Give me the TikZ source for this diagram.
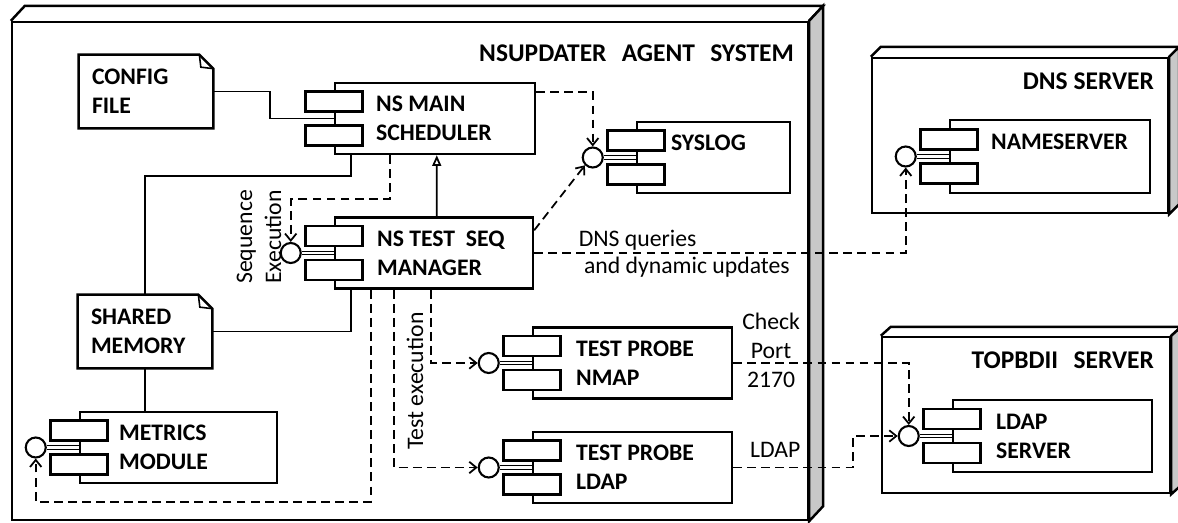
\documentclass[tikz,border=0pt]{standalone}
\usepackage{fontspec}
\setmainfont{Carlito}
\usepackage{tikz}
\usetikzlibrary{positioning, arrows.meta, calc}

\definecolor{sidegray}{RGB}{200,200,200}

% two little tabs on the left edge of a component
\newcommand{\comptabs}[1]{%
  \node[tab] (#1-a) at ([yshift=0.34cm]#1.west) {};
  \node[tab] (#1-b) at ([yshift=-0.34cm]#1.west) {};
}
% provided interface
\newcommand{\lollipop}[1]{%
  \node[iface, left=0.64cm of #1.west] (#1-i) {};
  \draw[line width=0.7pt, double, double distance=1.3pt] (#1-i) -- (#1.west);
}
% top and side faces of a deployment node
\newcommand{\nodebox}[3]{%
  \draw[line width=1.4pt] (#1.north west) -- ++(#2,-#3) -- ([shift={(#2,-#3)}]#1.north east) -- (#1.north east);
  \filldraw[line width=1.4pt, fill=sidegray] (#1.north east) -- ++(#2,-#3)
    -- ([shift={(#2,-#3)}]#1.south east) -- (#1.south east) -- cycle;
}
% document with a folded corner
\newcommand{\notefold}[1]{%
  \draw[line width=1.4pt] (#1.north west) -- ([xshift=-0.28cm]#1.north east)
    -- ([yshift=-0.28cm]#1.north east) -- (#1.south east) -- (#1.south west) -- cycle;
  \draw[line width=0.9pt] ([xshift=-0.28cm]#1.north east) -- ([xshift=-0.25cm,yshift=-0.25cm]#1.north east)
    -- ([yshift=-0.28cm]#1.north east);
}

\begin{document}
\begin{tikzpicture}[x=0.02cm, y=-0.02cm,
  font=\fontsize{13.5}{16.5}\selectfont,
  box/.style={draw, line width=1.4pt, fill=white, inner sep=0pt},
  comp/.style={draw, line width=1.4pt, fill=white, minimum width=4cm, minimum height=1.42cm, inner sep=0pt},
  tab/.style={draw, line width=1.4pt, fill=white, minimum width=1.14cm, minimum height=0.4cm, inner sep=0pt},
  iface/.style={circle, draw, line width=1.2pt, fill=white, minimum size=0.4cm, inner sep=0pt},
  ctext/.style={align=left, inner sep=0pt, font=\fontsize{13.5}{16.5}\selectfont\bfseries},
  ttext/.style={inner sep=0pt, font=\fontsize{14.5}{17}\selectfont\bfseries},
  note/.style={minimum width=2.68cm, minimum height=1.46cm, text width=2.16cm, inner xsep=0.26cm,
    align=left, font=\fontsize{13.5}{16.5}\selectfont\bfseries},
  link/.style={line width=1pt},
  dep/.style={line width=1pt, dash pattern=on 5pt off 3pt, -{Straight Barb[length=4pt, width=6.5pt]}},
  lbl/.style={inner sep=0pt, align=center}]

  \fill[white] (0,0) rectangle (1178,522);
  \useasboundingbox (0,0) rectangle (1178,522);

  % deployment nodes
  \node[box, minimum width=15.92cm, minimum height=9.96cm] (agent) at (410,271) {};
  \nodebox{agent}{14}{15}
  \node[box, minimum width=5.92cm, minimum height=3.1cm] (dns) at (1020,135.5) {};
  \nodebox{dns}{10}{10}
  \node[box, minimum width=5.76cm, minimum height=3.12cm] (bdii) at (1026,415) {};
  \nodebox{bdii}{10}{9}

  \node[ttext, below left=0.47cm and 0.3cm of agent.north east] (agenttitle)
    {NSUPDATER\hspace{0.6em}AGENT\hspace{0.6em}SYSTEM};
  \node[ttext, below left=0.32cm and 0.3cm of dns.north east] (dnstitle) {DNS SERVER};
  \node[ttext, below left=0.32cm and 0.34cm of bdii.north east] (bdiititle) {TOPBDII\hspace{0.6em}SERVER};

  % files
  \node[note] (config) at (146,91.5) {CONFIG\\FILE};
  \notefold{config}
  \node[note] (shmem) at (145,331.5) {SHARED\\MEMORY};
  \notefold{shmem}

  % components
  \node[comp] (sched) at (435,118.5) {};
  \comptabs{sched}
  \node[ctext, right=0.84cm of sched.west] {NS MAIN\\SCHEDULER};

  \node[comp, minimum width=3.06cm] (syslog) at (713.5,157.5) {};
  \lollipop{syslog}
  \comptabs{syslog}
  \node[ctext, right=0.7cm of syslog.west, yshift=0.29cm] {SYSLOG};

  \node[comp, minimum width=3.96cm] (seq) at (434,253) {};
  \lollipop{seq}
  \comptabs{seq}
  \node[ctext, right=0.86cm of seq.west] {NS TEST\ \ SEQ\\MANAGER};

  \node[comp, minimum width=3.98cm] (nmap) at (632.5,363) {};
  \lollipop{nmap}
  \comptabs{nmap}
  \node[ctext, right=0.88cm of nmap.west] {TEST PROBE\\NMAP};

  \node[comp, minimum width=3.98cm] (ldapprobe) at (632.5,467.5) {};
  \lollipop{ldapprobe}
  \comptabs{ldapprobe}
  \node[ctext, right=0.88cm of ldapprobe.west] {TEST PROBE\\LDAP};

  \node[comp, minimum width=3.94cm] (metrics) at (178.5,447.5) {};
  \lollipop{metrics}
  \comptabs{metrics}
  \node[ctext, right=0.8cm of metrics.west] {METRICS\\MODULE};

  \node[comp, minimum width=4cm, minimum height=1.46cm] (ns) at (1050,156.5) {};
  \lollipop{ns}
  \comptabs{ns}
  \node[ctext, right=0.84cm of ns.west, yshift=0.29cm] {NAMESERVER};

  \node[comp, minimum width=3.98cm, minimum height=1.44cm] (ldaps) at (1052.5,436) {};
  \lollipop{ldaps}
  \comptabs{ldaps}
  \node[ctext, right=0.88cm of ldaps.west] {LDAP\\SERVER};

  % solid links
  \draw[link] (config.east) -- ++(57,0) |- (sched.west);
  \draw[link] ([xshift=0.34cm]sched.south west) -- ++(0,21) -| (shmem.north);
  \draw[link] ([xshift=0.34cm]seq.south west) |- (shmem.east);
  \draw[link] (shmem.south) -- (shmem.south |- metrics.north);
  \draw[link, -{Triangle[open, length=6pt, width=5pt]}] ([xshift=2.06cm]seq.north west) -- ([xshift=2.06cm]sched.south west);

  % dependencies
  \draw[dep] ([xshift=1.12cm]sched.south west) -- ++(0,44) -| (seq-i.north);
  \draw[dep] ([yshift=-0.2cm]sched.north east) -| (syslog-i.north);
  \draw[dep] ([yshift=-0.28cm]seq.north east) -- (syslog-i.south west);
  \draw[dep] (seq.east) -| (ns-i.south)
    node[pos=0.051, anchor=base west, yshift=0.14cm] {DNS queries}
    node[pos=0.058, anchor=base west, yshift=-0.4cm] {and dynamic updates};
  \draw[dep] ([xshift=0.74cm]seq.south west) -- ++(0,212) -| (metrics-i.south);
  \draw[dep] ([xshift=1.2cm]seq.south west) |- (ldapprobe-i.west);
  \draw[dep] ([xshift=1.94cm]seq.south west) |- (nmap-i.west);
  \draw[dep] (nmap.east) -| (ldaps-i.north)
    node[lbl, pos=0.108, yshift=0.26cm] {Check\\Port\\2170};
  \draw[dep] (ldapprobe.east) -- node[lbl, pos=0.35, anchor=base, yshift=0.2cm] {LDAP} ++(120,0) |- (ldaps-i.west);

  \node[lbl, rotate=90] (seqexec) at (259,237) {Sequence\\Execution};
  \node[lbl, rotate=90] (testexec) at (415,381) {Test execution};
\end{tikzpicture}
\end{document}
